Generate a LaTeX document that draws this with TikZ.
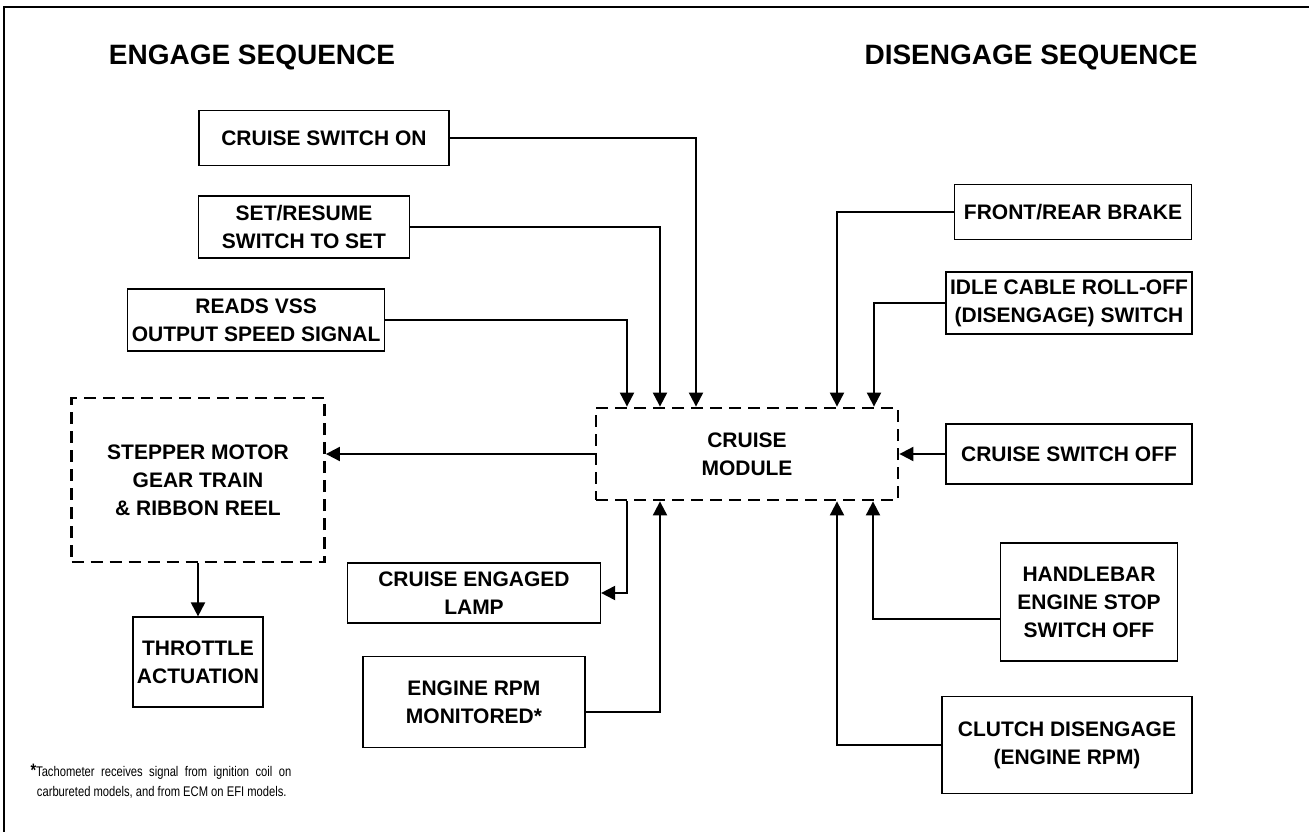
\documentclass[tikz,border=0pt]{standalone}
\usepackage{fontspec}
\setmainfont{Liberation Sans}
\usetikzlibrary{arrows.meta}

\begin{document}
\begin{tikzpicture}[
    x=1pt, y=-1pt,
    box/.style={rectangle, draw=black, line width=1.2pt, align=center, inner xsep=4pt, font=\fontsize{21}{28}\selectfont\bfseries},
    dbox/.style={box, line width=2.8pt, dash pattern=on 12pt off 7pt},
    head/.style={font=\fontsize{28}{32}\selectfont\bfseries},
    foot/.style={font=\fontsize{14}{20}\selectfont, align=left, inner sep=0pt, xscale=0.8, transform shape},
    arr/.style={-{Triangle[length=14pt, width=14pt]}, line width=2pt}
]
\useasboundingbox (0,0) rectangle (1309,832);
\draw[line width=1.5pt] (4,832) -- (4,7) -- (1309,7);

\node[head] (engage) at (252,57) {ENGAGE SEQUENCE};
\node[head] (disengage) at (1031,57) {DISENGAGE SEQUENCE};

\node[box, minimum width=250pt, minimum height=55pt] (swon) at (324,138) {CRUISE SWITCH ON};
\node[box, minimum width=211pt, minimum height=62pt] (setres) at (304,227) {SET/RESUME\\SWITCH TO SET};
\node[box, minimum width=244pt, minimum height=62pt, anchor=east] (vss) at (385,320) {READS VSS\\OUTPUT SPEED SIGNAL};
\node[dbox, minimum width=253pt, minimum height=164pt] (stepper) at (198,480) {STEPPER MOTOR\\GEAR TRAIN\\\& RIBBON REEL};
\node[box, minimum width=128pt, minimum height=90pt] (throttle) at (198,662) {THROTTLE\\ACTUATION};
\node[box, minimum width=253pt, minimum height=60pt] (lamp) at (474,593) {CRUISE ENGAGED\\LAMP};
\node[box, minimum width=222pt, minimum height=91pt] (rpm) at (474,702) {ENGINE RPM\\MONITORED*};
\node[dbox, minimum width=302pt, minimum height=92pt] (module) at (747,454) {CRUISE\\MODULE};

\node[box, minimum width=237pt, minimum height=55pt] (brake) at (1073,212) {FRONT/REAR BRAKE};
\node[box, minimum width=246pt, minimum height=62pt] (idle) at (1069,303) {IDLE CABLE ROLL-OFF\\(DISENGAGE) SWITCH};
\node[box, minimum width=246pt, minimum height=60pt] (swoff) at (1069,454) {CRUISE SWITCH OFF};
\node[box, minimum width=177pt, minimum height=118pt] (handlebar) at (1089,602) {HANDLEBAR\\ENGINE STOP\\SWITCH OFF};
\node[box, minimum width=250pt, minimum height=97pt] (clutch) at (1067,745) {CLUTCH DISENGAGE\\(ENGINE RPM)};

\node[foot, anchor=north west] (note) at (36,764) {\llap{{\fontsize{18}{18}\selectfont\bfseries *}}\makebox[319pt][s]{Tachometer receives signal from ignition coil on}\\\hspace*{1pt}carbureted models, and from ECM on EFI models.};

\draw[arr] (swon.east) -| ([xshift=-51pt]module.north);
\draw[arr] (setres.east) -| ([xshift=-87pt]module.north);
\draw[arr] (vss.east) -| ([xshift=-120pt]module.north);
\draw[arr] (brake.west) -| ([xshift=90pt]module.north);
\draw[arr] (idle.west) -| ([xshift=127pt]module.north);
\draw[arr] (swoff.west) -- (module.east);
\draw[arr] (module.west) -- (module.west -| stepper.east);
\draw[arr] (stepper.south) -- (throttle.north);
\draw[arr] ([xshift=-120pt]module.south) |- (lamp.east);
\draw[arr] ([yshift=-10pt]rpm.east) -| ([xshift=-87pt]module.south);
\draw[arr] ([yshift=-17pt]handlebar.west) -| ([xshift=126pt]module.south);
\draw[arr] (clutch.west) -| ([xshift=90pt]module.south);
\end{tikzpicture}
\end{document}
